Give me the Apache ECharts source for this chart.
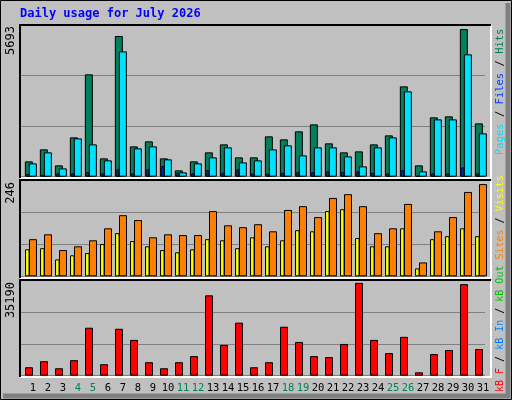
<!DOCTYPE html>
<html><head><meta charset="utf-8">
<script src="https://cdn.jsdelivr.net/npm/echarts@6/dist/echarts.min.js"></script>
<style>html,body{margin:0;padding:0;background:#c0c0c0}#c{width:512px;height:400px}</style>
</head><body><div id="c"></div>
<script>
const days = ['1','2','3','4','5','6','7','8','9','10','11','12','13','14','15','16','17','18','19','20','21','22','23','24','25','26','27','28','29','30','31'];
const weekendDays = ['4','5','11','12','18','19','25','26'];
const hits = [591,1054,437,1517,3947,707,5426,1170,1363,707,244,591,939,1247,746,746,1556,1440,1749,2019,1286,939,977,1247,1594,3484,437,2289,2327,5693,2057];
const files = [514,939,321,1479,1247,630,4834,1093,1170,669,167,514,746,1131,553,630,1054,1209,823,1131,1131,784,399,1131,1517,3291,206,2211,2211,4719,1671];
const pages = [103,77,129,129,180,129,283,129,283,411,154,129,257,154,283,129,129,154,180,180,206,180,206,154,129,257,26,129,129,360,129];
const visits = [72,75,45,56,62,86,115,94,80,70,64,72,99,96,75,104,80,96,123,120,174,179,102,80,80,128,21,99,107,128,107];
const sites = [99,112,70,80,96,128,163,150,104,112,110,110,174,136,131,139,120,177,187,158,209,219,187,115,128,193,37,120,158,225,246];
const kbytes = [3200,5500,2820,5890,18180,4350,17790,13570,5120,2820,5120,7420,30460,11650,20100,3200,5120,18560,12800,7420,7040,12030,35190,13570,8580,14720,1280,8190,9730,34690,10110];
const maxLabels = ['5693','246','35190'];

const P = [{top:25,h:151.7,max:5850,iv:1950},{top:180.7,h:95.6,max:255,iv:85},{top:280.7,h:95,max:36000,iv:12000}];
const W = 465;
const grids=[], xAxes=[], yAxes=[], series=[];
function addGrid(p,left,showSplit,labels){
  const i=grids.length;
  grids.push({left:left,top:P[p].top,width:W,height:P[p].h});
  xAxes.push({type:'category',gridIndex:i,data:days,axisLine:{show:false},axisTick:{show:false},
    axisLabel:labels?{show:true,interval:0,margin:7,fontFamily:'DejaVu Sans Mono',fontSize:10.5,
      color:(v)=>weekendDays.includes(v)?'#00805c':'#000'}:{show:false}});
  yAxes.push({type:'value',gridIndex:i,min:0,max:P[p].max,interval:P[p].iv,axisLabel:{show:false},
    axisLine:{show:false},axisTick:{show:false},splitLine:{show:showSplit,lineStyle:{color:'#808080',width:1}}});
  return i;
}
function addBar(p,left,data,color,bw,z){
  const i=addGrid(p,left,false,false);
  series.push({type:'bar',xAxisIndex:i,yAxisIndex:i,data:data,barWidth:bw,z:z,silent:true,
    itemStyle:{color:color,borderColor:'#000',borderWidth:1}});
}
addGrid(0,20,true,false); addGrid(1,20,true,false); addGrid(2,20,true,false);
addBar(0,21.35,hits,'#00805c',8,3);
addBar(0,25.35,files,'#00e0ff',8,4);
addBar(0,20.3,pages,'#0040ff',3,5);
addBar(1,19.8,visits,'#ffff00',4.5,3);
addBar(1,25.5,sites,'#ff8000',8,4);
addBar(2,21.5,kbytes,'#ff0000',8,3);
addGrid(2,25.5,false,true);

function frame(x1,y1,x2,y2){
  return [
    {type:'rect',shape:{x:x1,y:y1,width:x2-x1,height:y2-y1},style:{fill:'#c0c0c0'},z:-10},
    {type:'polyline',shape:{points:[[x1,y2],[x2,y2],[x2,y1]]},style:{stroke:'#fff',lineWidth:2,fill:null},z:10},
    {type:'polyline',shape:{points:[[x1,y2],[x1,y1],[x2,y1]]},style:{stroke:'#000',lineWidth:2,fill:null},z:10}
  ];
}
const mono='DejaVu Sans Mono';
const f1='10.5px '+mono, f2='10px '+mono;
const graphic=[
  {type:'rect',shape:{x:0.5,y:0.5,width:511,height:399},style:{fill:'#c0c0c0',stroke:'#000',lineWidth:1},z:-20},
  {type:'polyline',shape:{points:[[3,396],[508,396],[508,3]]},style:{stroke:'#808080',lineWidth:5,fill:null},z:-15},
  ...frame(20,25,491,178),...frame(20,180,491,278),...frame(20,280,491,377),
  {type:'text',left:20,top:8,style:{text:'Daily usage for July 2026',font:'bold 12px '+mono,fill:'#0000ff'},z:20},
  {type:'text',x:5,y:26,rotation:Math.PI/2,style:{text:maxLabels[0],font:'12px '+mono,fill:'#000',align:'right',verticalAlign:'top'},z:20},
  {type:'text',x:5,y:182,rotation:Math.PI/2,style:{text:maxLabels[1],font:'12px '+mono,fill:'#000',align:'right',verticalAlign:'top'},z:20},
  {type:'text',x:5,y:282,rotation:Math.PI/2,style:{text:maxLabels[2],font:'12px '+mono,fill:'#000',align:'right',verticalAlign:'top'},z:20},
  {type:'text',x:495,y:155,rotation:Math.PI/2,style:{
    text:'{p|Pages} {s|/} {f|Files} {s|/} {h|Hits}',font:f1,align:'left',verticalAlign:'top',
    rich:{p:{fill:'#00e0ff',font:f1},s:{fill:'#000',font:f1},f:{fill:'#0040ff',font:f1},h:{fill:'#00805c',font:f1}}},z:20},
  {type:'text',x:495,y:392,rotation:Math.PI/2,style:{
    text:'{r|kB F} {s|/} {b|kB In} {s|/} {g|kB Out} {o|Sites} {s|/} {y|Visits}',font:f2,align:'left',verticalAlign:'top',
    rich:{r:{fill:'#ff0000',font:f2},s:{fill:'#000',font:f2},b:{fill:'#0080ff',font:f2},g:{fill:'#00c000',font:f2},o:{fill:'#ff8000',font:f2},y:{fill:'#ffff00',font:f2}}},z:20}
];
const chart=echarts.init(document.getElementById('c'),null,{renderer:'canvas'});
chart.setOption({animation:false,backgroundColor:'#c0c0c0',grid:grids,xAxis:xAxes,yAxis:yAxes,series:series,graphic:graphic});
</script></body></html>
